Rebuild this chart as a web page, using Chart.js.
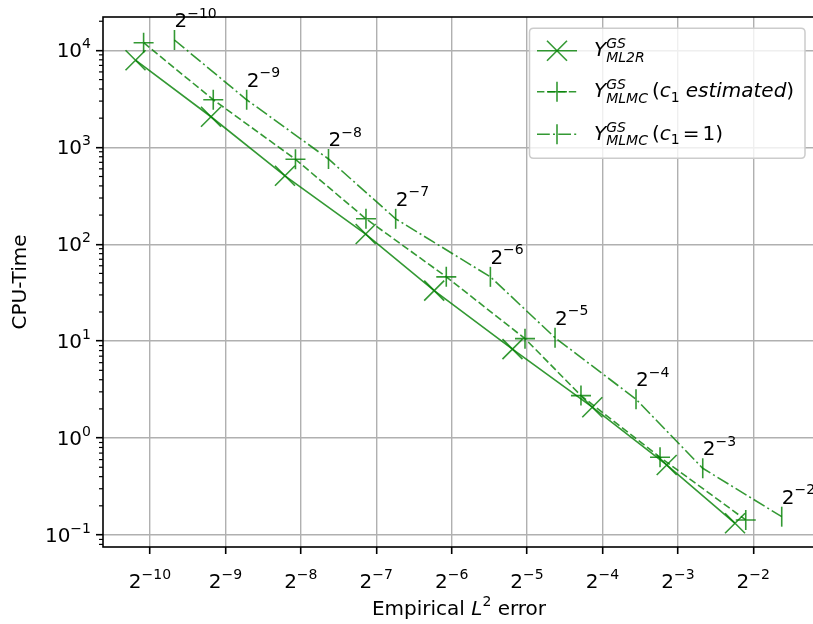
<!DOCTYPE html>
<html>
<head>
<meta charset="utf-8">
<script src="https://cdn.jsdelivr.net/npm/chart.js@4.4.1/dist/chart.umd.min.js"></script>
<style>
html,body{margin:0;padding:0;background:#ffffff;overflow:hidden;}
body{width:813px;height:624px;position:relative;}
#c{position:absolute;left:0;top:0;}
</style>
</head>
<body>
<canvas id="c" width="840" height="624" style="width:840px;height:624px"></canvas>
<script>
// ---------------- data ----------------
const levelExponents = [-10, -9, -8, -7, -6, -5, -4, -3, -2];   // annotation labels 2^k
const xTickExponents = [-10, -9, -8, -7, -6, -5, -4, -3, -2];   // x ticks 2^k
const yTickExponents = [-1, 0, 1, 2, 3, 4];                     // y ticks 10^k

const errML2R   = [0.000855, 0.001711, 0.003377, 0.00709, 0.01331, 0.02733, 0.05692, 0.1128, 0.2114];
const timeML2R  = [7925, 2068, 508.6, 127.5, 33.27, 8.265, 2.082, 0.528, 0.132];

const errMLMCest  = [0.000921, 0.001747, 0.003719, 0.00711, 0.014875, 0.03067, 0.0513, 0.1061, 0.2333];
const timeMLMCest = [12010, 3097, 752.7, 183.0, 46.09, 10.61, 2.744, 0.634, 0.1429];

const errMLMC1  = [0.001223, 0.002375, 0.005038, 0.009342, 0.02231, 0.04042, 0.08508, 0.1571, 0.3247];
const timeMLMC1 = [12806, 3097, 758, 183.0, 46.09, 10.86, 2.518, 0.488, 0.1545];

const xAxisTitle = ['Empirical ', 'L', '2', ' error'];
const yAxisTitle = 'CPU-Time';

// legend labels as math-text pieces
const legendML2R  = [{t:'Y', it:1}, {t:'GS', it:1, sup:1, hold:1}, {t:'ML2R', it:1, sub:1}];
const legendMLMCe = [{t:'Y', it:1}, {t:'GS', it:1, sup:1, hold:1}, {t:'MLMC', it:1, sub:1},
                     {t:'(', gap:4}, {t:'c', it:1}, {t:'1', sub1:1}, {t:'estimated', it:1, gap:6}, {t:')'}];
const legendMLMC1 = [{t:'Y', it:1}, {t:'GS', it:1, sup:1, hold:1}, {t:'MLMC', it:1, sub:1},
                     {t:'(', gap:4}, {t:'c', it:1}, {t:'1', sub1:1}, {t:'=', gap:3}, {t:'1', gap:3}, {t:')'}];

// ---------------- styling ----------------
const GREEN = 'rgba(0,128,0,0.8)';
const LW = 1.6;
const F = 20, S = 14;
const FONT = '"DejaVu Sans"';
const X_MIN = Math.pow(2, -10.623), X_MAX = Math.pow(2, -1.1816);
const Y_MIN = Math.pow(10, -1.1239), Y_MAX = Math.pow(10, 4.3448);

function pts(xs, ys){ return xs.map((x, i) => ({x: x, y: ys[i]})); }

function fontOf(s){
  const sz = (s.sup || s.sub || s.sub1 || s.small) ? S : F;
  return (s.it ? 'italic ' : '') + sz + 'px ' + FONT;
}
function dyOf(s){
  if (s.sup) return -8;
  if (s.sub) return 5.5;
  if (s.sub1) return 4.4;
  if (s.tsup) return -9.4;
  return s.dy || 0;
}
function layoutMath(ctx, segs){
  let x = 0, items = [], held = null;
  for (const s of segs){
    ctx.font = fontOf(s);
    const m = ctx.measureText(s.t).width;
    if (held){ items.push({s, x: held.x}); x = held.x + Math.max(m, held.m); held = null; continue; }
    const sx = x + (s.gap || 0);
    items.push({s, x: sx});
    if (s.hold) held = {x: sx, m}; else x = sx + m;
  }
  return {items, width: x};
}
function drawMath(ctx, x, y, segs, align){
  const L = layoutMath(ctx, segs);
  let x0 = x;
  if (align === 'center') x0 = x - L.width / 2;
  else if (align === 'right') x0 = x - L.width;
  ctx.textAlign = 'left';
  ctx.textBaseline = 'alphabetic';
  for (const it of L.items){
    ctx.font = fontOf(it.s);
    ctx.fillText(it.s.t, x0 + it.x, y + dyOf(it.s));
  }
}
function pow2Label(k){ return [{t:'2'}, {t:'\u2212' + Math.abs(k), small:1, tsup:1}]; }
function pow10Label(k){ return [{t:'10'}, {t:(k < 0 ? '\u2212' : '') + Math.abs(k), small:1, tsup:1}]; }

function drawMarker(ctx, style, x, y){
  ctx.beginPath();
  if (style === 'x'){ const h = 10; ctx.moveTo(x-h, y-h); ctx.lineTo(x+h, y+h); ctx.moveTo(x+h, y-h); ctx.lineTo(x-h, y+h); }
  else if (style === '+'){ const h = 10; ctx.moveTo(x-h, y); ctx.lineTo(x+h, y); ctx.moveTo(x, y-h); ctx.lineTo(x, y+h); }
  else { const h = 10; ctx.moveTo(x, y-h); ctx.lineTo(x, y+h); }
  ctx.stroke();
}

const overlay = {
  id: 'overlay',
  afterDraw(chart){
    const ctx = chart.ctx, ca = chart.chartArea;
    const xs = chart.scales.x, ys = chart.scales.y;
    ctx.save();
    // minor y ticks
    ctx.strokeStyle = '#000'; ctx.lineWidth = 1.2;
    for (let e = -2; e <= 4; e++){
      for (let m = 2; m <= 9; m++){
        const v = m * Math.pow(10, e);
        if (v < Y_MIN || v > Y_MAX) continue;
        const py = ys.getPixelForValue(v);
        ctx.beginPath(); ctx.moveTo(ca.left - 4, py); ctx.lineTo(ca.left, py); ctx.stroke();
      }
    }
    // spines
    ctx.lineWidth = 1.6; ctx.strokeStyle = '#000';
    ctx.strokeRect(ca.left, ca.top, ca.right - ca.left, ca.bottom - ca.top);

    ctx.fillStyle = '#000';
    // x tick labels
    xTickExponents.forEach(k => {
      drawMath(ctx, xs.getPixelForValue(Math.pow(2, k)), 588, pow2Label(k), 'center');
    });
    // y tick labels
    yTickExponents.forEach(k => {
      drawMath(ctx, 91, ys.getPixelForValue(Math.pow(10, k)) + 7, pow10Label(k), 'right');
    });
    // axis titles
    drawMath(ctx, (ca.left + ca.right) / 2, 615,
      [{t:xAxisTitle[0]}, {t:xAxisTitle[1], it:1}, {t:xAxisTitle[2], small:1, tsup:1}, {t:xAxisTitle[3]}], 'center');
    ctx.save();
    ctx.translate(25.5, (ca.top + ca.bottom) / 2);
    ctx.rotate(-Math.PI / 2);
    ctx.font = F + 'px ' + FONT; ctx.textAlign = 'center'; ctx.textBaseline = 'alphabetic';
    ctx.fillText(yAxisTitle, 0, 0);
    ctx.restore();

    // annotations next to the c1 = 1 points
    levelExponents.forEach((k, i) => {
      const px = xs.getPixelForValue(errMLMC1[i]);
      const py = ys.getPixelForValue(timeMLMC1[i]);
      drawMath(ctx, px, py - 13, pow2Label(k), 'left');
    });

    // legend
    const lx = 529.5, ly = 28.3, lw = 275.5, lh = 130, r = 4;
    ctx.beginPath();
    ctx.moveTo(lx + r, ly); ctx.lineTo(lx + lw - r, ly); ctx.quadraticCurveTo(lx + lw, ly, lx + lw, ly + r);
    ctx.lineTo(lx + lw, ly + lh - r); ctx.quadraticCurveTo(lx + lw, ly + lh, lx + lw - r, ly + lh);
    ctx.lineTo(lx + r, ly + lh); ctx.quadraticCurveTo(lx, ly + lh, lx, ly + lh - r);
    ctx.lineTo(lx, ly + r); ctx.quadraticCurveTo(lx, ly, lx + r, ly); ctx.closePath();
    ctx.fillStyle = 'rgba(255,255,255,0.8)'; ctx.fill();
    ctx.strokeStyle = '#cccccc'; ctx.lineWidth = 1.5; ctx.stroke();

    const rows = [
      {y: 50.7, dash: [], mk: 'x', lab: legendML2R},
      {y: 91.7, dash: [7.4, 3.2], mk: '+', lab: legendMLMCe},
      {y: 134.3, dash: [12.8, 3.2, 2, 3.2], mk: '|', lab: legendMLMC1}
    ];
    rows.forEach(rw => {
      ctx.strokeStyle = GREEN; ctx.lineWidth = LW;
      ctx.setLineDash(rw.dash);
      ctx.beginPath(); ctx.moveTo(537, rw.y); ctx.lineTo(577, rw.y); ctx.stroke();
      ctx.setLineDash([]);
      drawMarker(ctx, rw.mk, 557, rw.y);
      ctx.fillStyle = '#000';
      drawMath(ctx, 594, rw.y + 5.5, rw.lab, 'left');
    });
    ctx.restore();
  }
};

const gridOpts = { color: '#b0b0b0', lineWidth: 1.4, drawTicks: true, tickLength: 7, tickColor: '#000', tickWidth: 1.6 };

new Chart(document.getElementById('c'), {
  type: 'line',
  data: {
    datasets: [
      { data: pts(errML2R, timeML2R), borderColor: GREEN, borderWidth: LW, pointStyle: 'crossRot',
        pointRadius: 14.14, pointBorderWidth: LW, pointBorderColor: GREEN, pointBackgroundColor: 'transparent',
        tension: 0, fill: false },
      { data: pts(errMLMCest, timeMLMCest), borderColor: GREEN, borderWidth: LW, borderDash: [7.4, 3.2],
        pointStyle: 'cross', pointRadius: 10, pointBorderWidth: LW, pointBorderColor: GREEN,
        pointBackgroundColor: 'transparent', tension: 0, fill: false },
      { data: pts(errMLMC1, timeMLMC1), borderColor: GREEN, borderWidth: LW, borderDash: [12.8, 3.2, 2, 3.2],
        pointStyle: 'line', pointRotation: 90, pointRadius: 10, pointBorderWidth: LW, pointBorderColor: GREEN,
        pointBackgroundColor: 'transparent', tension: 0, fill: false }
    ]
  },
  options: {
    responsive: false, animation: false, devicePixelRatio: 1, events: [],
    layout: { padding: { top: 17, right: 25, left: 0, bottom: 0 } },
    plugins: { legend: { display: false }, tooltip: { enabled: false } },
    scales: {
      x: {
        type: 'logarithmic', min: X_MIN, max: X_MAX, bounds: 'data',
        ticks: { display: false },
        grid: gridOpts, border: { display: false },
        afterBuildTicks: s => { s.ticks = xTickExponents.map(k => ({ value: Math.pow(2, k), major: true })); },
        afterFit: s => { s.height = 77; }
      },
      y: {
        type: 'logarithmic', min: Y_MIN, max: Y_MAX, bounds: 'data',
        ticks: { display: false },
        grid: gridOpts, border: { display: false },
        afterBuildTicks: s => { s.ticks = yTickExponents.map(k => ({ value: Math.pow(10, k), major: true })); },
        afterFit: s => { s.width = 103; }
      }
    }
  },
  plugins: [overlay]
});
</script>
</body>
</html>
